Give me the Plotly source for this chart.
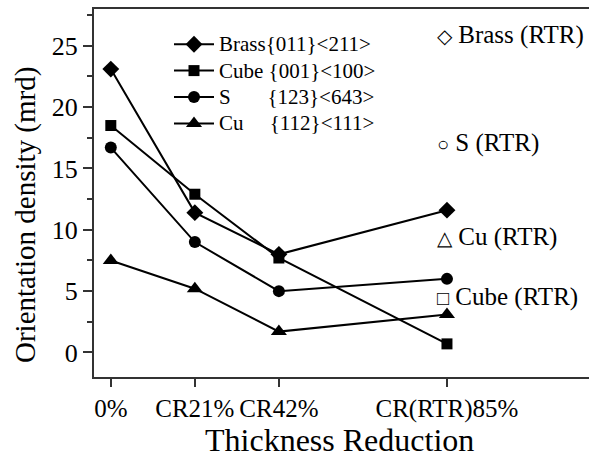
import plotly.graph_objects as go

# Thickness reduction steps (plotted on an ordinal position scale)
reduction_labels = ["0%", "CR21%", "CR42%", "CR(RTR)85%"]
reduction_pos = [0, 1, 2, 4]

# Orientation density (mrd) of each texture component
brass = [23.1, 11.4, 8.0, 11.6]
cube = [18.5, 12.9, 7.7, 0.7]
s_comp = [16.7, 9.0, 5.0, 6.0]
cu = [7.5, 5.2, 1.7, 3.1]

NB = "\u00a0"
series_names = [
    "Brass{011}<211>",
    "Cube" + NB + "{001}<100>",
    "S" + NB * 7 + "{123}<643>",
    "Cu" + NB * 5 + "{112}<111>",
]
series_values = [brass, cube, s_comp, cu]
series_symbols = ["diamond", "square", "circle", "triangle-up"]
series_sizes = [13, 11, 12, 14]

# RTR reference components, listed beside the final step
rtr_symbols = ["\u25c7", "\u25cb", "\u25b3", "\u25a1"]
rtr_labels = ["Brass (RTR)", "S (RTR)", "Cu (RTR)", "Cube (RTR)"]

FONT = "Liberation Serif"
AXIS_COLOR = "#333333"

fig = go.Figure()
for name, vals, sym, size in zip(series_names, series_values, series_symbols, series_sizes):
    fig.add_trace(go.Scatter(
        x=reduction_pos, y=vals,
        name=f"<span style='font-size:21px'>{name}</span>",
        mode="lines+markers",
        line=dict(color="black", width=2),
        marker=dict(symbol=sym, size=size, color="black", line=dict(width=0)),
    ))

# paper-coordinate helpers for the label layout
W, H = 589, 464
ML, MR, MT, MB = 94, 0, 9, 87
PW, PH = W - ML - MR, H - MT - MB


def px_x(x):
    return (x - ML) / PW


def px_y(y):
    return (H - MB - y) / PH


annotations = []
for sym, label, ypix in zip(rtr_symbols, rtr_labels, [35, 143, 237, 297]):
    annotations.append(dict(
        text=f"<span style='font-size:20px'>{sym}</span> {label}",
        xref="paper", yref="paper", x=px_x(435), y=px_y(ypix),
        xanchor="left", yanchor="middle", showarrow=False,
        font=dict(family=FONT, size=25, color="black"),
    ))

annotations.append(dict(
    text="Orientation density (mrd)", textangle=-90,
    xref="paper", yref="paper", x=px_x(26), y=px_y(215),
    xanchor="center", yanchor="middle", showarrow=False,
    font=dict(family=FONT, size=29, color="black"),
))
annotations.append(dict(
    text="Thickness Reduction",
    xref="paper", yref="paper", x=px_x(339), y=px_y(440),
    xanchor="center", yanchor="middle", showarrow=False,
    font=dict(family=FONT, size=32, color="black"),
))

fig.update_layout(
    width=W, height=H,
    margin=dict(l=ML, r=MR, t=MT, b=MB, pad=0),
    paper_bgcolor="white", plot_bgcolor="white",
    font=dict(family=FONT, color="black"),
    showlegend=True,
    legend=dict(
        x=px_x(169), y=px_y(26), xanchor="left", yanchor="top",
        bgcolor="rgba(0,0,0,0)", borderwidth=0,
        font=dict(family=FONT, size=18, color="black"),
        itemwidth=40, tracegroupgap=0,
    ),
    annotations=annotations,
)

fig.update_xaxes(
    range=[-0.2, 5.69], tickmode="array",
    tickvals=reduction_pos, ticktext=reduction_labels,
    showline=True, linecolor=AXIS_COLOR, linewidth=2, mirror=True,
    ticks="outside", ticklen=8, tickwidth=2, tickcolor=AXIS_COLOR,
    tickfont=dict(family=FONT, size=25, color="black"),
    showgrid=False, zeroline=False,
)
fig.update_yaxes(
    range=[-2.0, 28.0], tickmode="linear", tick0=0, dtick=5,
    showline=True, linecolor=AXIS_COLOR, linewidth=2, mirror=False,
    ticks="outside", ticklen=9, tickwidth=2, tickcolor=AXIS_COLOR,
    minor=dict(ticks="outside", ticklen=5, tickwidth=1.5, dtick=2.5, tickcolor=AXIS_COLOR, showgrid=False),
    tickfont=dict(family=FONT, size=26, color="black"),
    showgrid=False, zeroline=False,
)

fig.write_html("out.html")
